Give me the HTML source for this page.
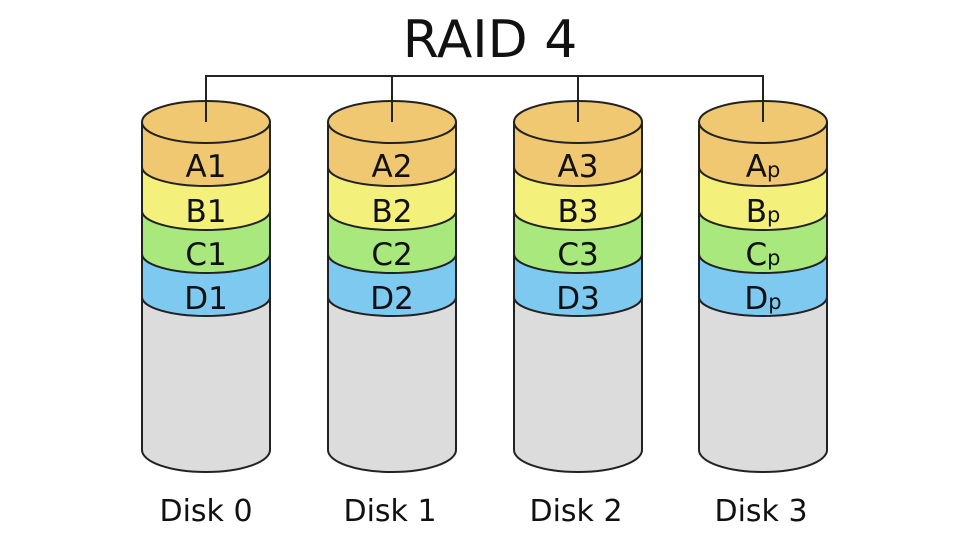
<!DOCTYPE html>
<html><head><meta charset="utf-8"><style>
html,body{margin:0;padding:0;background:#fff;}
svg{display:block}
text{font-family:"DejaVu Sans","Liberation Sans",sans-serif;fill:#111}
</style></head><body>
<svg width="980" height="551" viewBox="0 0 980 551" xmlns="http://www.w3.org/2000/svg">
<text x="490" y="57" font-size="52" text-anchor="middle">RAID 4</text>
<polyline points="206,122 206,76 763,76 763,122" fill="none" stroke="#222" stroke-width="2"/>
<defs>
<g id="disk">
  <path d="M-64,122 V450 A64,22 0 0 0 64,450 V122 Z" fill="#dcdcdc" stroke="#222" stroke-width="2"/>
  <path d="M-64,254 V297 A64,19 0 0 0 64,297 V254 Z" fill="#7ec9f0" stroke="#222" stroke-width="2"/>
  <path d="M-64,211 V254 A64,19 0 0 0 64,254 V211 Z" fill="#a8e87c" stroke="#222" stroke-width="2"/>
  <path d="M-64,167 V211 A64,19 0 0 0 64,211 V167 Z" fill="#f4f07c" stroke="#222" stroke-width="2"/>
  <path d="M-64,122 V167 A64,19 0 0 0 64,167 V122 Z" fill="#f1c872" stroke="#222" stroke-width="2"/>
  <ellipse cx="0" cy="122" rx="64" ry="21" fill="#f1c872" stroke="#222" stroke-width="2"/>
</g>
</defs>
<g transform="translate(206,0)"><use href="#disk"/></g>
<g transform="translate(392,0)"><use href="#disk"/></g>
<g transform="translate(578,0)"><use href="#disk"/></g>
<g transform="translate(763,0)"><use href="#disk"/></g>
<line x1="206" y1="76" x2="206" y2="122" stroke="#222" stroke-width="2"/>
<line x1="392" y1="76" x2="392" y2="122" stroke="#222" stroke-width="2"/>
<line x1="578" y1="76" x2="578" y2="122" stroke="#222" stroke-width="2"/>
<line x1="763" y1="76" x2="763" y2="122" stroke="#222" stroke-width="2"/>
<g font-size="31" text-anchor="middle">
<text x="206" y="177">A1</text><text x="206" y="222">B1</text><text x="206" y="265">C1</text><text x="206" y="309">D1</text>
<text x="392" y="177">A2</text><text x="392" y="222">B2</text><text x="392" y="265">C2</text><text x="392" y="309">D2</text>
<text x="578" y="177">A3</text><text x="578" y="222">B3</text><text x="578" y="265">C3</text><text x="578" y="309">D3</text>
<text x="763" y="177">A<tspan font-size="21">p</tspan></text>
<text x="763" y="222">B<tspan font-size="21">p</tspan></text>
<text x="763" y="265">C<tspan font-size="21">p</tspan></text>
<text x="763" y="309">D<tspan font-size="21">p</tspan></text>
</g>
<g font-size="30" text-anchor="middle">
<text x="206" y="521">Disk 0</text><text x="390" y="521">Disk 1</text><text x="576" y="521">Disk 2</text><text x="761" y="521">Disk 3</text>
</g>
</svg>
</body></html>
